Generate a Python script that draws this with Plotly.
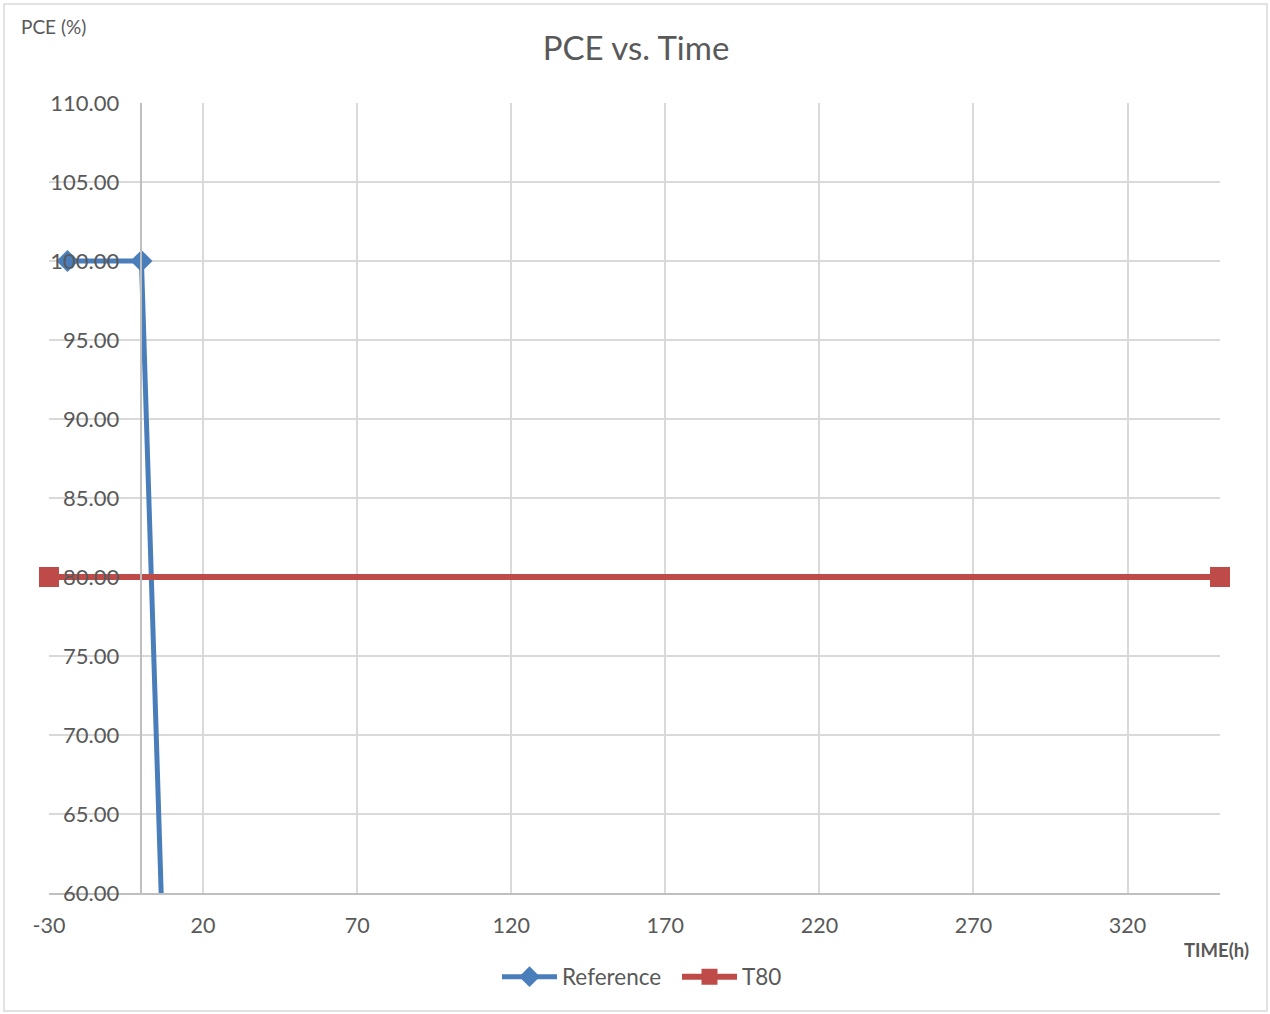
import plotly.graph_objects as go

# Series data
ref_time = [-24, 0, 8]
ref_pce = [100.0, 100.0, 50.0]
t80_time = [-30, 350]
t80_pce = [80.0, 80.0]

x_range = [-30, 350]
y_range = [60, 110]
x_ticks = [-30, 20, 70, 120, 170, 220, 270, 320]
x_tick_text = [str(v) for v in x_ticks]
y_ticks = [60, 65, 70, 75, 80, 85, 90, 95, 100, 105, 110]

FONT = "Lato, Calibri, Carlito, sans-serif"
TXT = "#595959"
GRID = "#D9D9D9"
BLUE = "#4A7EBB"
RED = "#BE4B48"

fig = go.Figure()
fig.add_trace(go.Scatter(
    x=ref_time, y=ref_pce, name="Reference",
    mode="lines+markers",
    line=dict(color=BLUE, width=5),
    marker=dict(symbol="diamond", size=17, color=BLUE),
    cliponaxis=True,
))
fig.add_trace(go.Scatter(
    x=t80_time, y=t80_pce, name="T80",
    mode="lines+markers",
    line=dict(color=RED, width=6),
    marker=dict(symbol="square", size=20, color=RED),
    cliponaxis=False,
))

W, H = 1270, 1014
L, R, T, B = 49, 50, 103, 121
pw, ph = W - L - R, H - T - B

def px(xp):
    return (xp - L) / pw

def py(yp):
    return (H - B - yp) / ph

fig.update_layout(
    width=W, height=H,
    margin=dict(l=L, r=R, t=T, b=B),
    paper_bgcolor="white", plot_bgcolor="white",
    font=dict(family=FONT, color=TXT, size=21),
    title=dict(text="PCE vs. Time", x=636 / W, y=1 - 48 / H,
               xanchor="center", yanchor="middle",
               font=dict(size=33, color=TXT, family=FONT)),
    showlegend=True,
    legend=dict(orientation="h", x=px(497), xanchor="left",
                y=py(977), yanchor="middle",
                font=dict(size=22.5, color=TXT), itemwidth=55,
                entrywidth=110, entrywidthmode="pixels",
                tracegroupgap=0, bgcolor="rgba(0,0,0,0)"),
    xaxis=dict(range=x_range, tickvals=x_ticks, ticktext=x_tick_text,
               showgrid=True, gridcolor=GRID, gridwidth=1.5,
               zeroline=False, showline=True, linecolor="#BFBFBF",
               linewidth=1.5, ticks="", ticklabelstandoff=12,
               tickfont=dict(size=21.5, color=TXT)),
    yaxis=dict(range=y_range, tickvals=y_ticks, tickformat=".2f",
               showgrid=True, gridcolor=GRID, gridwidth=1.5,
               zeroline=False, showline=True, linecolor="#BFBFBF",
               linewidth=1.5, anchor="free",
               position=(0 - x_range[0]) / (x_range[1] - x_range[0]),
               ticks="", ticklabelstandoff=17,
               tickfont=dict(size=22, color=TXT)),
    annotations=[
        dict(text="PCE (%)", xref="paper", yref="paper",
             x=px(19), y=py(27), xanchor="left", yanchor="middle",
             showarrow=False, font=dict(size=19, color=TXT)),
        dict(text="<b>TIME(h)</b>", xref="paper", yref="paper",
             x=px(1251), y=py(950), xanchor="right", yanchor="middle",
             showarrow=False, font=dict(size=18.5, color=TXT)),
    ],
    shapes=[
        dict(type="rect", xref="paper", yref="paper",
             x0=px(4), x1=px(1267), y0=py(1011), y1=py(4),
             line=dict(color=GRID, width=1.5), layer="below"),
    ],
)

fig.write_html("out.html")
